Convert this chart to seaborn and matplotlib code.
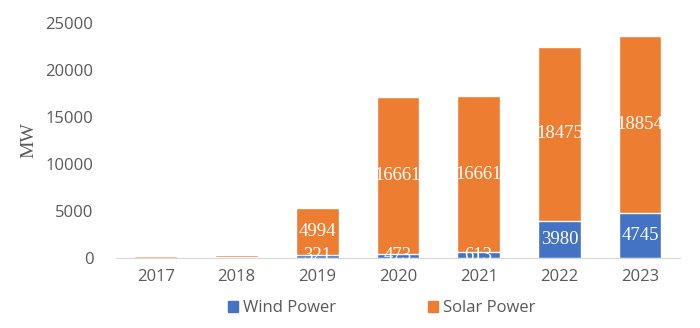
import matplotlib
matplotlib.use("Agg")
import matplotlib.pyplot as plt
import seaborn as sns
import pandas as pd
from matplotlib.patches import Patch

years = ["2017", "2018", "2019", "2020", "2021", "2022", "2023"]
wind = [60, 100, 321, 473, 613, 3980, 4745]
solar = [130, 230, 4994, 16661, 16661, 18475, 18854]
show_label = [False, False, True, True, True, True, True]

BLUE = "#4472C4"
ORANGE = "#ED7D31"

sns.set_style("white")
plt.rcParams["font.family"] = ["Open Sans", "DejaVu Sans"]

df = pd.DataFrame({"year": years, "wind": wind, "solar": solar})
df["total"] = df["wind"] + df["solar"]

fig, ax = plt.subplots(figsize=(7.0, 3.28), dpi=100)
fig.subplots_adjust(left=0.165, right=0.972, top=0.93, bottom=0.213)

sns.barplot(data=df, x="year", y="total", color=ORANGE, width=0.53,
            saturation=1, ax=ax)
sns.barplot(data=df, x="year", y="wind", color=BLUE, width=0.53,
            saturation=1, ax=ax)

for i, (w, s, show) in enumerate(zip(wind, solar, show_label)):
    if not show:
        continue
    ax.text(i, w + s / 2, f"{s}", ha="center", va="center", color="white",
            fontsize=13.5, family="Liberation Serif")
    ax.text(i, max(w / 2, 300), f"{w}", ha="center", va="center", color="white",
            fontsize=13.5, family="Liberation Serif")

ax.set_ylim(0, 25000)
ax.set_yticks(range(0, 25001, 5000))
ax.set_xlim(-0.5, 6.5)
ax.set_xlabel("")
ax.set_ylabel("MW", family="Liberation Serif", fontsize=14, color="#595959",
              labelpad=6)
ax.tick_params(axis="both", length=0, labelsize=12, labelcolor="#595959")
ax.tick_params(axis="y", pad=16)
ax.tick_params(axis="x", pad=8)
for side in ["top", "right", "left"]:
    ax.spines[side].set_visible(False)
ax.spines["bottom"].set_color("#D9D9D9")
ax.grid(False)

handles = [Patch(color=BLUE, label="Wind Power"),
           Patch(color=ORANGE, label="Solar Power")]
fig.legend(handles=handles, loc="lower center", ncol=2, frameon=False,
           bbox_to_anchor=(0.545, -0.01), fontsize=12, handlelength=0.6,
           handleheight=0.6, columnspacing=5.5, handletextpad=0.3,
           labelcolor="#595959")

fig.savefig("out.png", dpi=100)
